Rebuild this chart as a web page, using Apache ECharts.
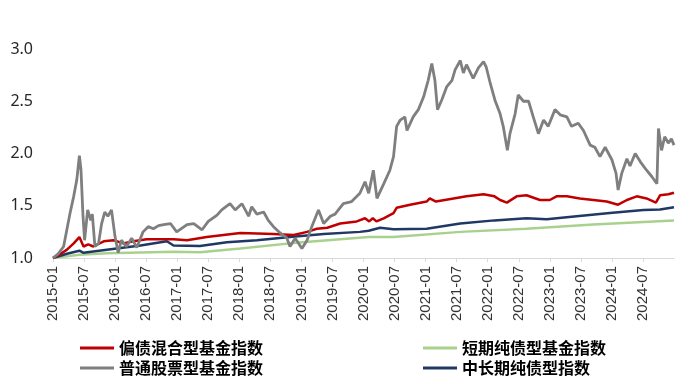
<!DOCTYPE html>
<html>
<head>
<meta charset="utf-8">
<script src="https://cdn.jsdelivr.net/npm/echarts@6/dist/echarts.min.js"></script>
<style>html,body{margin:0;padding:0;background:#fff;}#c{width:692px;height:382px;}</style>
</head>
<body>
<div id="c"></div>
<script>
// x = months since 2015-01
const seriesNames = ['偏债混合型基金指数', '普通股票型基金指数', '短期纯债型基金指数', '中长期纯债型指数'];
const yTicks = [1.0, 1.5, 2.0, 2.5, 3.0];
const startYear = 2015;

const mixedBond = [[0,1.00],[1.5,1.04],[2.7,1.08],[4.0,1.14],[5.1,1.20],[5.9,1.11],[6.8,1.13],[7.8,1.11],[9.8,1.16],[11.7,1.17],[13.6,1.14],[15.5,1.16],[18.1,1.18],[23.3,1.18],[25.9,1.17],[29.7,1.20],[36.2,1.24],[42.6,1.23],[46.5,1.22],[49.1,1.25],[51.0,1.28],[53.0,1.29],[55.5,1.33],[58.7,1.35],[60.3,1.38],[61.1,1.35],[61.8,1.38],[62.5,1.35],[63.9,1.38],[65.8,1.43],[66.4,1.48],[69.0,1.51],[72.2,1.54],[72.8,1.57],[74.0,1.54],[77.4,1.57],[79.9,1.59],[83.2,1.61],[85.3,1.59],[86.4,1.555],[87.7,1.53],[89.6,1.59],[91.5,1.60],[94.1,1.555],[96.0,1.555],[97.3,1.59],[99.3,1.59],[101.8,1.57],[104.4,1.555],[107.0,1.54],[109.2,1.51],[110.9,1.555],[112.8,1.59],[114.7,1.57],[116.5,1.53],[117.3,1.60],[118.9,1.61],[120.0,1.625]];

const equity = [[0,1.00],[1,1.04],[2.05,1.11],[3.3,1.43],[4,1.59],[4.6,1.75],[5.1,1.98],[5.4,1.85],[5.8,1.40],[6.1,1.17],[6.7,1.46],[7.3,1.36],[7.6,1.42],[8.1,1.11],[8.8,1.14],[9.4,1.33],[10.0,1.44],[10.6,1.40],[11.3,1.46],[12.0,1.20],[12.6,1.05],[13.2,1.17],[14.2,1.11],[15.2,1.19],[16.2,1.10],[17.4,1.25],[18.4,1.30],[19.4,1.28],[20.4,1.31],[21.4,1.32],[22.7,1.33],[23.9,1.25],[25.9,1.32],[27.2,1.33],[28.8,1.27],[30.0,1.35],[31.7,1.41],[32.6,1.46],[34.2,1.52],[35.2,1.46],[36.5,1.52],[37.8,1.40],[38.4,1.49],[39.4,1.42],[40.7,1.44],[41.6,1.36],[42.6,1.30],[43.9,1.24],[45.2,1.19],[45.8,1.11],[46.8,1.19],[48.1,1.09],[49.1,1.17],[50.0,1.30],[51.3,1.46],[52.3,1.33],[53.6,1.40],[54.5,1.42],[56.1,1.52],[57.7,1.54],[59.3,1.62],[60.3,1.73],[61.0,1.62],[61.9,1.84],[62.6,1.57],[63.9,1.71],[65.1,1.84],[65.8,1.97],[66.4,2.26],[67.1,2.32],[68.0,2.35],[68.4,2.22],[69.6,2.35],[70.6,2.42],[71.6,2.54],[72.5,2.70],[73.2,2.86],[73.8,2.70],[74.3,2.42],[75.1,2.51],[76.1,2.64],[77.1,2.70],[77.7,2.80],[78.7,2.89],[79.3,2.77],[79.9,2.85],[81.2,2.72],[82.2,2.82],[83.2,2.88],[83.7,2.83],[84.5,2.67],[85.4,2.51],[86.4,2.38],[87.0,2.26],[87.8,2.03],[88.3,2.19],[89.3,2.38],[89.9,2.56],[90.9,2.50],[91.9,2.50],[92.8,2.35],[93.8,2.19],[94.8,2.32],[95.7,2.26],[97.0,2.42],[98.0,2.37],[99.3,2.35],[100.2,2.26],[101.5,2.29],[102.5,2.22],[103.8,2.08],[104.7,2.06],[105.7,1.97],[106.7,2.06],[108.0,1.94],[108.8,1.81],[109.2,1.65],[109.9,1.81],[110.9,1.95],[111.5,1.88],[112.5,2.00],[113.5,1.92],[114.7,1.84],[115.7,1.78],[116.7,1.71],[117.0,2.24],[117.6,2.03],[118.2,2.16],[118.9,2.10],[119.5,2.14],[120.0,2.08]];

const shortBond = [[0,1.00],[5.1,1.03],[10.4,1.045],[23.3,1.06],[28.4,1.055],[36.2,1.09],[45.8,1.14],[55.5,1.18],[61.0,1.20],[65.8,1.20],[78.7,1.25],[91.5,1.28],[104.4,1.32],[120.0,1.36]];

const longBond = [[0,1.00],[2.7,1.04],[5.1,1.07],[5.9,1.05],[10.4,1.08],[16.9,1.12],[22.0,1.16],[23.3,1.12],[28.4,1.115],[33.6,1.15],[39.4,1.17],[45.8,1.20],[52.3,1.23],[59.3,1.25],[61.0,1.26],[63.2,1.29],[65.8,1.275],[72.2,1.28],[78.7,1.33],[85.3,1.36],[91.5,1.38],[95.4,1.37],[101.2,1.40],[107.6,1.43],[114.1,1.46],[117.3,1.465],[120.0,1.485]];

const colors = { red: '#C00000', gray: '#7F7F7F', green: '#A9D18E', navy: '#1F3864' };

function monthLabel(m) {
  if (m >= 120) return '';
  const y = startYear + Math.floor(m / 12);
  const mo = (m % 12) + 1;
  return y + '-' + (mo < 10 ? '0' + mo : mo);
}

const chart = echarts.init(document.getElementById('c'), null, { renderer: 'canvas' });
const legendText = { fontSize: 16, fontWeight: 'bold', color: '#000', fontFamily: '"Noto Sans CJK SC", sans-serif' };
const legendPos = [[80, 340], [80, 360], [423, 340], [423, 360]];
const legendOrder = [0, 1, 2, 3];
const legends = legendOrder.map((i, k) => ({
  id: 'lg' + k,
  show: true,
  type: 'plain',
  data: [seriesNames[i]],
  orient: 'horizontal',
  left: legendPos[k][0],
  top: legendPos[k][1],
  padding: 0,
  itemWidth: 34,
  itemHeight: 3,
  itemGap: 4,
  icon: 'rect',
  textStyle: legendText
}));

chart.setOption({
  animation: false,
  backgroundColor: '#fff',
  grid: { left: 53, top: 49, width: 621, height: 209, containLabel: false },
  xAxis: {
    type: 'value', min: 0, max: 120, interval: 6,
    axisLine: { show: true, lineStyle: { color: '#D9D9D9', width: 1 } },
    axisTick: { show: true, length: 4, lineStyle: { color: '#D9D9D9' } },
    splitLine: { show: false },
    axisLabel: { rotate: 90, margin: 8, fontSize: 15, color: '#333', fontFamily: 'Arial, "Liberation Sans", sans-serif', formatter: monthLabel, showMaxLabel: false }
  },
  yAxis: {
    type: 'value', min: yTicks[0], max: yTicks[yTicks.length - 1], interval: 0.5,
    axisLine: { show: false }, axisTick: { show: false }, splitLine: { show: false },
    axisLabel: { margin: 20, fontSize: 16, color: '#262626', fontFamily: '"Noto Sans", "Open Sans", sans-serif', formatter: v => v.toFixed(1) }
  },
  legend: legends,
  series: [
    { name: seriesNames[2], type: 'line', data: shortBond, showSymbol: false, symbol: 'none', z: 1, color: colors.green, lineStyle: { width: 2.5, color: colors.green } },
    { name: seriesNames[3], type: 'line', data: longBond, showSymbol: false, symbol: 'none', z: 2, color: colors.navy, lineStyle: { width: 2.5, color: colors.navy } },
    { name: seriesNames[0], type: 'line', data: mixedBond, showSymbol: false, symbol: 'none', z: 3, color: colors.red, lineStyle: { width: 2.5, color: colors.red } },
    { name: seriesNames[1], type: 'line', data: equity, showSymbol: false, symbol: 'none', z: 4, color: colors.gray, lineStyle: { width: 2.8, color: colors.gray } }
  ]
});
</script>
</body>
</html>
